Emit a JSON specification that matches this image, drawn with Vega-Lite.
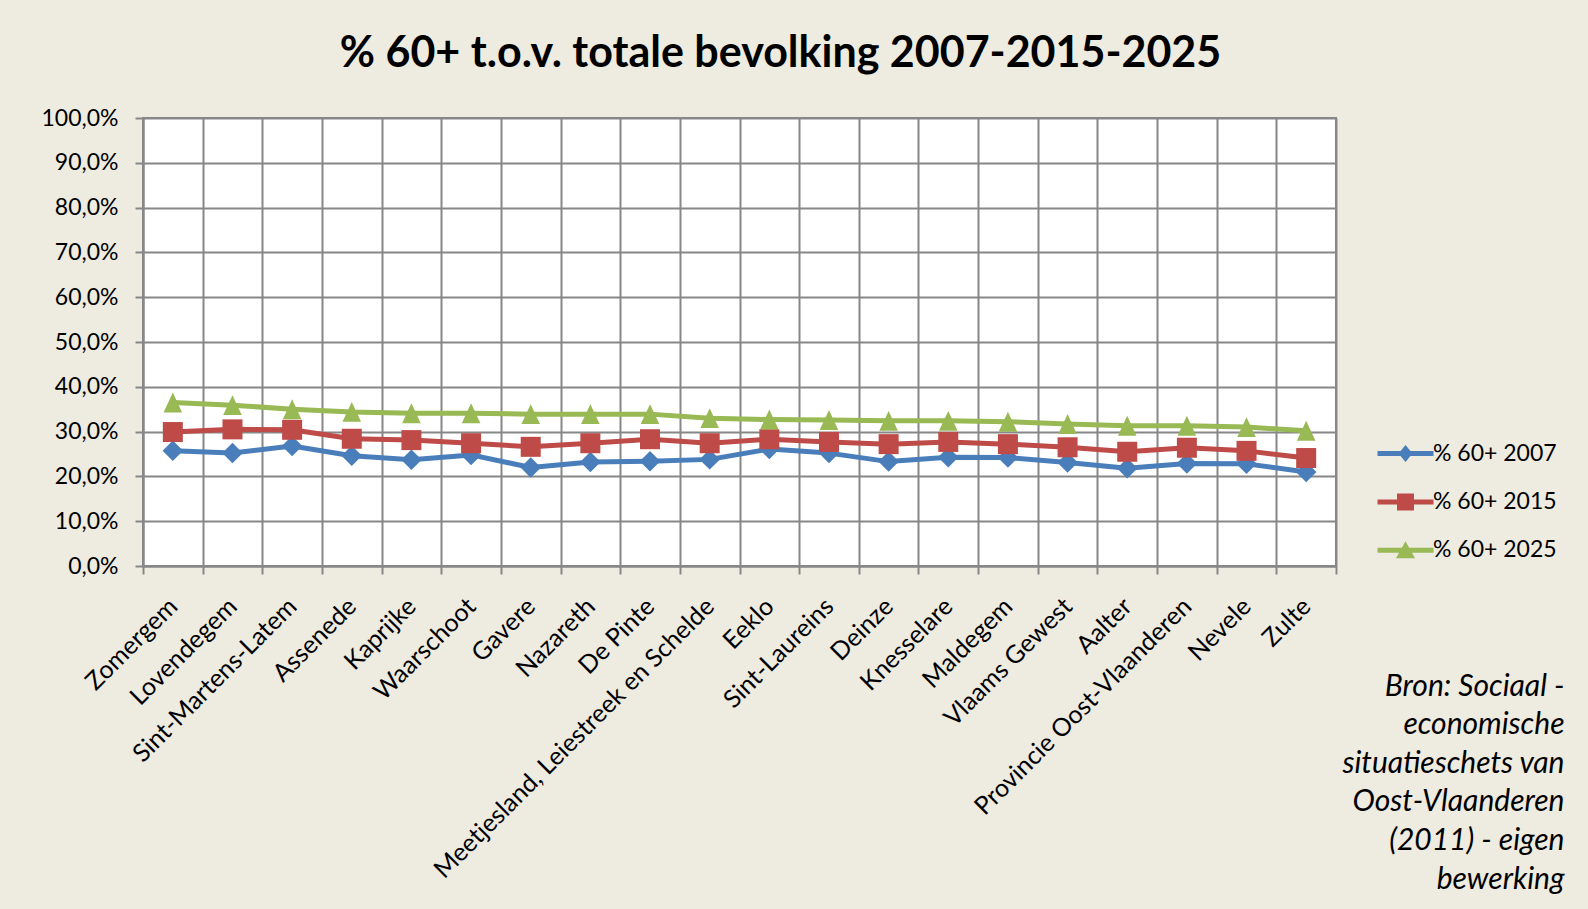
{
  "$schema": "https://vega.github.io/schema/vega-lite/v6.json",
  "width": 1193,
  "height": 448,
  "autosize": {"type": "none"},
  "padding": {"left": 143, "top": 118, "right": 252, "bottom": 343},
  "background": "#EEEBE0",
  "title": {
    "text": "% 60+ t.o.v. totale bevolking 2007-2015-2025",
    "font": "Lato",
    "fontSize": 43,
    "fontWeight": "bold",
    "color": "#000000",
    "anchor": "middle",
    "frame": "group",
    "dx": 41,
    "offset": 31
  },
  "config": {
    "view": {"fill": "#FFFFFF", "stroke": "#878787", "strokeWidth": 2},
    "axis": {
      "gridColor": "#878787",
      "gridWidth": 2,
      "gridOpacity": 1,
      "domainColor": "#878787",
      "domainWidth": 2,
      "tickColor": "#878787",
      "tickWidth": 2,
      "tickSize": 8,
      "labelFont": "Lato",
      "labelFontSize": 23,
      "labelColor": "#000000",
      "labelLimit": 0
    }
  },
  "data": {
    "values": [
      {"gemeente": "Zomergem", "% 60+ 2007": 25.7, "% 60+ 2015": 29.9, "% 60+ 2025": 36.5},
      {"gemeente": "Lovendegem", "% 60+ 2007": 25.2, "% 60+ 2015": 30.5, "% 60+ 2025": 35.9},
      {"gemeente": "Sint-Martens-Latem", "% 60+ 2007": 26.8, "% 60+ 2015": 30.4, "% 60+ 2025": 35.0},
      {"gemeente": "Assenede", "% 60+ 2007": 24.6, "% 60+ 2015": 28.4, "% 60+ 2025": 34.4},
      {"gemeente": "Kaprijke", "% 60+ 2007": 23.7, "% 60+ 2015": 28.1, "% 60+ 2025": 34.1},
      {"gemeente": "Waarschoot", "% 60+ 2007": 24.8, "% 60+ 2015": 27.4, "% 60+ 2025": 34.1},
      {"gemeente": "Gavere", "% 60+ 2007": 22.0, "% 60+ 2015": 26.6, "% 60+ 2025": 33.9},
      {"gemeente": "Nazareth", "% 60+ 2007": 23.2, "% 60+ 2015": 27.4, "% 60+ 2025": 33.9},
      {"gemeente": "De Pinte", "% 60+ 2007": 23.4, "% 60+ 2015": 28.3, "% 60+ 2025": 33.9},
      {"gemeente": "Meetjesland, Leiestreek en Schelde", "% 60+ 2007": 23.8, "% 60+ 2015": 27.4, "% 60+ 2025": 33.0},
      {"gemeente": "Eeklo", "% 60+ 2007": 26.1, "% 60+ 2015": 28.3, "% 60+ 2025": 32.7},
      {"gemeente": "Sint-Laureins", "% 60+ 2007": 25.2, "% 60+ 2015": 27.7, "% 60+ 2025": 32.6},
      {"gemeente": "Deinze", "% 60+ 2007": 23.3, "% 60+ 2015": 27.2, "% 60+ 2025": 32.4},
      {"gemeente": "Knesselare", "% 60+ 2007": 24.3, "% 60+ 2015": 27.7, "% 60+ 2025": 32.4},
      {"gemeente": "Maldegem", "% 60+ 2007": 24.2, "% 60+ 2015": 27.2, "% 60+ 2025": 32.2},
      {"gemeente": "Vlaams Gewest", "% 60+ 2007": 23.1, "% 60+ 2015": 26.5, "% 60+ 2025": 31.7},
      {"gemeente": "Aalter", "% 60+ 2007": 21.8, "% 60+ 2015": 25.5, "% 60+ 2025": 31.3},
      {"gemeente": "Provincie Oost-Vlaanderen", "% 60+ 2007": 22.9, "% 60+ 2015": 26.4, "% 60+ 2025": 31.3},
      {"gemeente": "Nevele", "% 60+ 2007": 22.8, "% 60+ 2015": 25.7, "% 60+ 2025": 31.0},
      {"gemeente": "Zulte", "% 60+ 2007": 21.0, "% 60+ 2015": 24.1, "% 60+ 2025": 30.2}
    ]
  },
  "transform": [
    {"fold": ["% 60+ 2007", "% 60+ 2015", "% 60+ 2025"], "as": ["reeks", "waarde"]}
  ],
  "encoding": {
    "x": {
      "field": "gemeente",
      "type": "nominal",
      "sort": null,
      "scale": {"paddingInner": 0, "paddingOuter": 0},
      "axis": {
        "tickBand": "extent",
        "grid": true,
        "labelAngle": -45,
        "labelAlign": "right",
        "labelBaseline": "middle",
        "labelOffset": 0,
        "labelPadding": 28,
        "labelFontSize": 25,
        "title": ["Bron: Sociaal -", "economische", "situatieschets van", "Oost-Vlaanderen", "(2011) - eigen", "bewerking"],
        "titleFont": "Lato",
        "titleFontSize": 30,
        "titleFontStyle": "italic",
        "titleFontWeight": "normal",
        "titleColor": "#000000",
        "titleAlign": "right",
        "titleBaseline": "alphabetic",
        "titleLineHeight": 38.6,
        "titleX": 1421,
        "titleY": 129,
        "titleAngle": 0
      }
    },
    "y": {
      "field": "waarde",
      "type": "quantitative",
      "scale": {"domain": [0, 100]},
      "axis": {
        "values": [0, 10, 20, 30, 40, 50, 60, 70, 80, 90, 100],
        "labelExpr": "replace(format(datum.value, '.1f'), '.', ',') + '%'",
        "labelPadding": 17,
        "title": null,
        "grid": true
      }
    },
    "color": {
      "field": "reeks",
      "type": "nominal",
      "scale": {
        "domain": ["% 60+ 2007", "% 60+ 2015", "% 60+ 2025"],
        "range": ["#4A7EBB", "#BE4B48", "#98B954"]
      },
      "legend": {
        "title": null,
        "orient": "none",
        "legendX": 1251,
        "legendY": 324,
        "padding": 0,
        "symbolSize": 400,
        "symbolStrokeWidth": 0,
        "rowPadding": 24.4,
        "labelFont": "Lato",
        "labelFontSize": 23,
        "labelColor": "#000000",
        "labelOffset": 16
      }
    }
  },
  "layer": [
    {
      "mark": {"type": "line", "strokeWidth": 5, "strokeJoin": "round", "strokeCap": "round"}
    },
    {
      "transform": [{"filter": "datum.reeks === '% 60+ 2007'"}],
      "mark": {"type": "point", "shape": "diamond", "filled": true, "opacity": 1, "strokeWidth": 0, "size": 420}
    },
    {
      "transform": [{"filter": "datum.reeks === '% 60+ 2015'"}],
      "mark": {"type": "point", "shape": "square", "filled": true, "opacity": 1, "strokeWidth": 0, "size": 400}
    },
    {
      "transform": [{"filter": "datum.reeks === '% 60+ 2025'"}],
      "mark": {"type": "point", "shape": "M0,-1.07L1,1.07L-1,1.07Z", "filled": true, "opacity": 1, "strokeWidth": 0, "size": 345}
    },
    {
      "transform": [{"filter": "false"}],
      "mark": {"type": "point", "filled": true, "opacity": 1, "strokeWidth": 0},
      "encoding": {
        "shape": {
          "field": "reeks",
          "type": "nominal",
          "scale": {
            "domain": ["% 60+ 2007", "% 60+ 2015", "% 60+ 2025"],
            "range": [
              "M-2.8,-0.25H2.8V0.25H-2.8Z M0,-0.85L0.7,0L0,0.85L-0.7,0Z",
              "M-2.8,-0.25H2.8V0.25H-2.8Z M-0.85,-0.85H0.85V0.85H-0.85Z",
              "M-2.8,-0.25H2.8V0.25H-2.8Z M0,-0.9L0.95,0.8L-0.95,0.8Z"
            ]
          },
          "legend": {
            "title": null,
            "orient": "none",
            "legendX": 1251,
            "legendY": 324,
            "padding": 0,
            "symbolSize": 400,
            "symbolStrokeWidth": 0,
            "rowPadding": 24.4,
            "labelFont": "Lato",
            "labelFontSize": 23,
            "labelColor": "#000000",
            "labelOffset": 16
          }
        }
      }
    }
  ]
}
